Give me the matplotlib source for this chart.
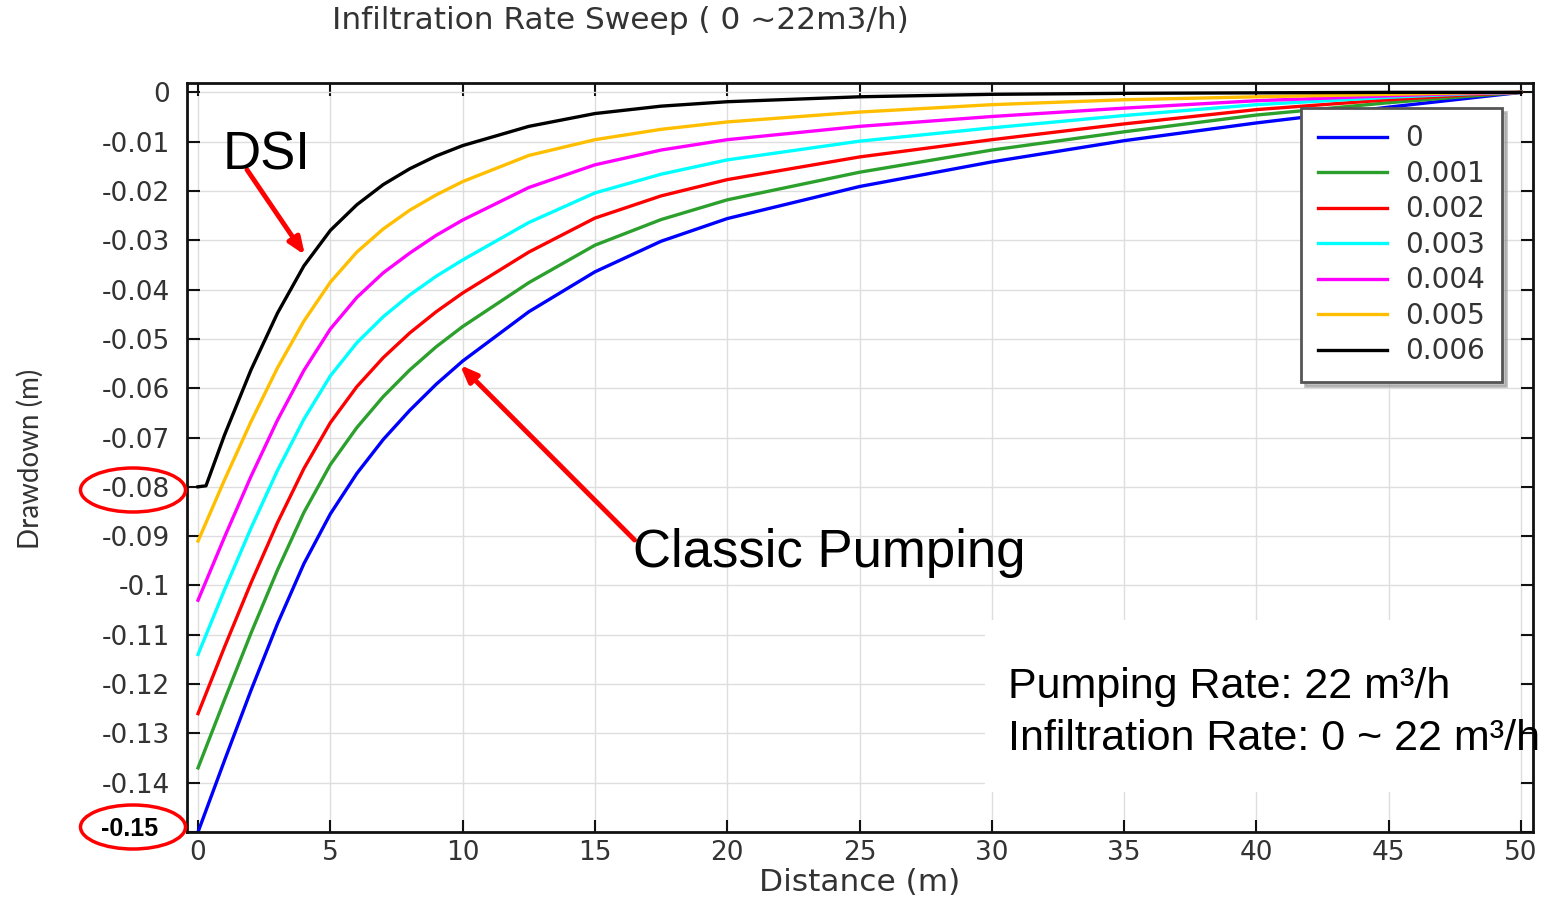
import matplotlib
matplotlib.use("Agg")
import matplotlib.pyplot as plt
from matplotlib.patches import Ellipse, Rectangle

# data
distance = [0, 1, 2, 3, 4, 5, 6, 7, 8, 9, 10, 12.5, 15, 17.5, 20, 25, 30, 35, 40, 45, 48, 50]
series_labels = ["0", "0.001", "0.002", "0.003", "0.004", "0.005"]
drawdown = [
    [-0.150, -0.1355, -0.1213, -0.1078, -0.0956, -0.0855, -0.0773, -0.0704, -0.0645, -0.0592,
     -0.0545, -0.0445, -0.0364, -0.0302, -0.0256, -0.0191, -0.0141, -0.0098, -0.0062, -0.0030,
     -0.0012, 0.0],
    [-0.137, -0.1232, -0.1097, -0.0969, -0.0852, -0.0755, -0.0680, -0.0617, -0.0563, -0.0516,
     -0.0475, -0.0386, -0.0310, -0.0258, -0.0218, -0.0162, -0.0117, -0.0080, -0.0046, -0.0021,
     -0.0008, 0.0],
    [-0.126, -0.1125, -0.0995, -0.0873, -0.0763, -0.0670, -0.0597, -0.0538, -0.0488, -0.0445,
     -0.0407, -0.0324, -0.0255, -0.0210, -0.0177, -0.0131, -0.0096, -0.0064, -0.0035, -0.0015,
     -0.0005, 0.0],
    [-0.114, -0.1009, -0.0884, -0.0767, -0.0663, -0.0575, -0.0508, -0.0455, -0.0411, -0.0373,
     -0.0340, -0.0264, -0.0204, -0.0166, -0.0137, -0.0099, -0.0072, -0.0047, -0.0025, -0.0010,
     -0.0003, 0.0],
    [-0.103, -0.0902, -0.0779, -0.0665, -0.0564, -0.0480, -0.0416, -0.0366, -0.0326, -0.0290,
     -0.0259, -0.0193, -0.0147, -0.0117, -0.0096, -0.0069, -0.0049, -0.0032, -0.0017, -0.0007,
     -0.0002, 0.0],
    [-0.091, -0.0786, -0.0668, -0.0559, -0.0464, -0.0385, -0.0324, -0.0277, -0.0239, -0.0208,
     -0.0181, -0.0128, -0.0096, -0.0075, -0.0060, -0.0040, -0.0025, -0.0015, -0.0009, -0.0004,
     -0.0001, 0.0],
]
dsi_label = "0.006"
dsi_distance = [0, 0.3, 1, 2, 3, 4, 5, 6, 7, 8, 9, 10, 12.5, 15, 17.5, 20, 25, 30, 35, 40, 45, 50]
dsi_drawdown = [-0.080, -0.0798, -0.0695, -0.0563, -0.0448, -0.0352, -0.0280, -0.0228, -0.0187,
                -0.0155, -0.0129, -0.0108, -0.0069, -0.0043, -0.0028, -0.0019, -0.0009, -0.0004,
                -0.0002, -0.0001, 0.0, 0.0]
colors = ["#0000ff", "#2ca02c", "#ff0000", "#00ffff", "#ff00ff", "#ffbf00"]

xticks = [0, 5, 10, 15, 20, 25, 30, 35, 40, 45, 50]
yticks = [0, -0.01, -0.02, -0.03, -0.04, -0.05, -0.06, -0.07, -0.08, -0.09, -0.1,
          -0.11, -0.12, -0.13, -0.14, -0.15]
ytick_labels = ["0", "-0.01", "-0.02", "-0.03", "-0.04", "-0.05", "-0.06", "-0.07", "-0.08",
                "-0.09", "-0.1", "-0.11", "-0.12", "-0.13", "-0.14", "-0.15"]

fig = plt.figure(figsize=(15.5, 9), dpi=100)
ax = fig.add_axes([0.1206, 0.0756, 0.8684, 0.8322])

for vals, lab, col in zip(drawdown, series_labels, colors):
    ax.plot(distance, vals, color=col, lw=2.4, label=lab)
ax.plot(dsi_distance, dsi_drawdown, color="black", lw=2.4, label=dsi_label)

ax.set_xlim(-0.42, 50.45)
ax.set_ylim(-0.15, 0.0019)
ax.set_xticks(xticks)
ax.set_yticks(yticks, labels=ytick_labels)
ax.grid(color="#dedede", lw=1)
ax.tick_params(direction="in", length=9, width=1.5, top=True, right=True,
               labelsize=19, labelcolor="#333333", colors="#111111")
ax.tick_params(axis="y", pad=12)
ax.tick_params(axis="x", pad=6)
for s in ax.spines.values():
    s.set_linewidth(2)
    s.set_color("#111111")

# the -0.15 label was retyped in bold on the original slide
ax.get_yticklabels()[-1].set_visible(False)
fig.text(130 / 1550, 1 - 829 / 900, ytick_labels[-1], ha="center", va="center",
         fontsize=18, family="Liberation Sans", weight="bold", color="black")

leg = ax.legend(loc="upper right", bbox_to_anchor=(0.977, 0.967), borderaxespad=0,
                fontsize=20, handlelength=2.5, handletextpad=0.65, labelspacing=0.27,
                borderpad=0.6, fancybox=False, edgecolor="#555555", framealpha=1,
                shadow={"ox": 3, "oy": -3, "color": "#999999", "alpha": 0.6})
leg.get_frame().set_linewidth(2)
for t in leg.get_texts():
    t.set_color("#333333")

fig.text(0.40, 0.977, "Infiltration Rate Sweep ( 0 ~22m3/h)", ha="center", va="center",
         fontsize=22.5, color="#333333")
fig.text(0.5548, 0.019, "Distance (m)", ha="center", va="center", fontsize=22.5, color="#333333")
fig.text(0.0195, 0.49, "Drawdown (m)", rotation=90, ha="center", va="center",
         fontsize=20, color="#333333", family="Lato")

# white box with the operating conditions
fig.patches.append(Rectangle((985 / 1550, 1 - 792 / 900), 535 / 1550, 172 / 900,
                             transform=fig.transFigure, facecolor="white", edgecolor="none",
                             zorder=3))
fig.text(1008 / 1550, 1 - 698 / 900, "Pumping Rate: 22 m³/h", fontsize=31,
         family="Liberation Sans", va="baseline", zorder=4)
fig.text(1008 / 1550, 1 - 750 / 900, "Infiltration Rate: 0 ~ 22 m³/h", fontsize=31,
         family="Liberation Sans", va="baseline", zorder=4)

arrow = dict(arrowstyle="-|>,head_length=1.0,head_width=0.4", color="red", lw=3.5,
             shrinkA=0, shrinkB=0)
ax.annotate("", xy=(4.04, -0.033), xytext=(1.85, -0.0157), arrowprops=arrow)
ax.text(0.92, -0.0156, "DSI", fontsize=38, family="Liberation Sans", va="baseline")
ax.annotate("", xy=(9.9, -0.0553), xytext=(16.5, -0.0908), arrowprops=arrow)
ax.text(16.45, -0.0963, "Classic Pumping", fontsize=38, family="Liberation Sans", va="baseline")

for cy in (490, 827):
    fig.patches.append(Ellipse((133 / 1550, 1 - cy / 900), 105 / 1550, 44 / 900,
                               transform=fig.transFigure, facecolor="none",
                               edgecolor="red", lw=2.5, zorder=5))

fig.savefig("out.png", dpi=100)
